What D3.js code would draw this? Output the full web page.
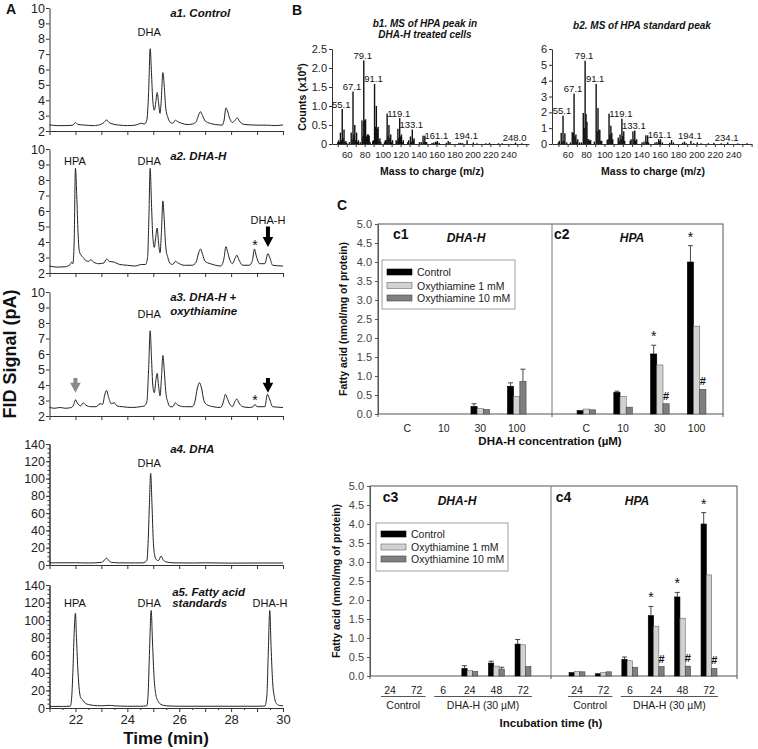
<!DOCTYPE html>
<html><head><meta charset="utf-8">
<script src="https://cdn.jsdelivr.net/npm/d3@7"></script>
<style>
body{margin:0;background:#fff}
svg{display:block}
</style></head><body>
<svg id="fig" width="758" height="749"></svg>
<script>
// ---------------- DATA ----------------
// Chromatograms: [time (min), FID signal (pA)]
const traceA1 = [[21.0,2.4],[21.3,2.35],[21.6,2.35],[21.9,2.38],[22.0,2.55],[22.1,2.42],[22.4,2.38],[22.7,2.35],[23.0,2.45],[23.1,2.55],[23.2,2.72],[23.3,2.55],[23.45,2.45],[23.7,2.38],[24.0,2.35],[24.3,2.38],[24.55,2.5],[24.65,2.45],[24.75,2.7],[24.82,4.5],[24.88,7.35],[24.93,5.8],[24.98,4.0],[25.04,3.35],[25.1,3.9],[25.15,4.5],[25.2,3.9],[25.26,3.15],[25.3,3.8],[25.37,5.8],[25.42,5.0],[25.48,3.5],[25.56,2.9],[25.66,2.55],[25.75,2.5],[25.85,2.7],[25.95,2.6],[26.1,2.5],[26.3,2.42],[26.5,2.45],[26.65,2.6],[26.75,3.05],[26.82,3.25],[26.9,3.0],[27.0,2.65],[27.1,2.55],[27.3,2.45],[27.5,2.4],[27.65,2.38],[27.73,2.7],[27.8,3.5],[27.85,3.35],[27.95,2.8],[28.05,2.55],[28.15,2.7],[28.24,2.85],[28.32,2.65],[28.45,2.45],[28.7,2.4],[29.0,2.38],[29.4,2.38],[29.7,2.35],[30.0,2.4]];
const traceA2 = [[21.0,2.45],[21.3,2.38],[21.6,2.4],[21.8,2.55],[21.85,2.7],[21.9,2.6],[21.95,4.0],[22.0,8.75],[22.05,7.0],[22.1,4.6],[22.15,3.4],[22.22,3.15],[22.3,3.0],[22.4,2.8],[22.5,2.75],[22.6,2.85],[22.7,2.7],[22.9,2.6],[23.1,2.65],[23.2,2.9],[23.3,2.75],[23.5,2.7],[23.7,2.55],[24.0,2.5],[24.3,2.45],[24.55,2.55],[24.7,2.55],[24.78,3.0],[24.83,5.5],[24.88,8.75],[24.93,6.5],[24.98,4.4],[25.04,3.65],[25.1,4.4],[25.15,4.9],[25.2,4.0],[25.26,3.3],[25.31,4.5],[25.37,6.65],[25.42,5.5],[25.48,3.7],[25.56,3.0],[25.66,2.6],[25.75,2.55],[25.85,2.75],[25.95,2.65],[26.2,2.5],[26.5,2.5],[26.65,2.7],[26.75,3.3],[26.82,3.55],[26.9,3.2],[27.0,2.75],[27.2,2.6],[27.4,2.5],[27.6,2.45],[27.72,2.9],[27.8,3.7],[27.86,3.4],[27.95,2.85],[28.05,2.6],[28.15,2.95],[28.22,3.15],[28.3,2.85],[28.45,2.5],[28.7,2.5],[28.82,2.8],[28.9,3.55],[28.97,3.1],[29.1,2.6],[29.3,2.6],[29.42,3.25],[29.5,2.95],[29.6,2.5],[30.0,2.45]];
const traceA3 = [[21.0,2.55],[21.2,2.5],[21.4,2.55],[21.6,2.5],[21.85,2.55],[21.95,2.8],[22.0,3.05],[22.07,2.85],[22.2,2.65],[22.3,2.85],[22.4,2.7],[22.6,2.6],[22.8,2.6],[22.95,2.8],[23.05,2.75],[23.12,3.3],[23.2,3.65],[23.28,3.2],[23.38,2.8],[23.5,2.85],[23.6,2.65],[23.8,2.6],[24.2,2.55],[24.5,2.6],[24.65,2.65],[24.75,2.9],[24.82,5.0],[24.88,7.5],[24.93,5.8],[24.98,4.0],[25.04,3.5],[25.1,4.3],[25.15,4.75],[25.2,4.0],[25.26,3.3],[25.31,4.3],[25.37,5.9],[25.42,5.0],[25.48,3.6],[25.56,2.9],[25.66,2.6],[25.75,2.6],[25.85,2.85],[25.95,2.7],[26.2,2.6],[26.5,2.6],[26.6,2.9],[26.7,3.8],[26.78,4.15],[26.86,3.8],[26.95,3.0],[27.05,2.75],[27.3,2.6],[27.6,2.55],[27.7,2.9],[27.78,3.4],[27.85,3.15],[27.95,2.75],[28.05,2.6],[28.15,2.95],[28.22,3.1],[28.3,2.85],[28.45,2.6],[28.7,2.55],[28.85,2.6],[28.92,2.75],[29.0,2.6],[29.3,2.6],[29.4,3.4],[29.48,3.1],[29.6,2.6],[30.0,2.55]];
const traceA4 = [[21.0,2.5],[22.0,2.6],[22.5,2.3],[23.0,3.0],[23.1,5.0],[23.2,8.0],[23.3,4.5],[23.4,3.0],[23.7,2.5],[24.3,2.4],[24.6,2.5],[24.75,5],[24.8,25],[24.85,70],[24.9,106],[24.95,70],[25.0,28],[25.05,12],[25.12,6],[25.2,5],[25.3,10.5],[25.38,6],[25.5,3.5],[25.8,2.5],[26.5,2.3],[27.0,2.5],[28.0,2.2],[29.0,2.3],[30.0,2.3]];
const traceA5 = [[21.0,1.8],[21.5,1.8],[21.8,2.0],[21.85,10],[21.9,40],[21.95,85],[22.0,108],[22.04,80],[22.1,40],[22.15,20],[22.2,12],[22.3,8.5],[22.4,5],[22.5,4],[22.7,3],[23.0,2.5],[23.3,3],[23.5,2.5],[24.0,2],[24.5,2],[24.75,2.5],[24.8,15],[24.85,60],[24.92,111],[24.97,75],[25.03,35],[25.1,15],[25.2,7],[25.3,4],[25.5,2.5],[26.0,2],[27.0,2],[28.0,2],[29.0,2],[29.3,2.2],[29.38,15],[29.43,60],[29.49,111],[29.54,70],[29.6,30],[29.67,12],[29.75,5],[29.85,3],[30.0,2.5]];
const chromTicksLow = [2,3,4,5,6,7,8,9,10];
const chromTicksHigh = [0,20,40,60,80,100,120,140];
const timeTicks = [22,24,26,28,30];

// Mass spectra: [m/z, counts x10^4]
const msB1 = [[50,0.05],[51,0.1],[52,0.05],[53,0.3],[54,0.1],[55,0.92],[56,0.15],[57,0.38],[58,0.05],[59,0.08],[60,0.03],[63,0.05],[65,0.3],[66,0.12],[67,1.38],[68,0.25],[69,0.5],[70,0.1],[71,0.3],[72,0.05],[73,0.1],[75,0.05],[77,0.62],[78,0.2],[79,2.2],[80,0.62],[81,0.65],[82,0.2],[83,0.25],[84,0.25],[85,0.22],[86,0.05],[89,0.08],[90,0.1],[91,1.58],[92,0.45],[93,1.0],[94,0.4],[95,0.45],[96,0.1],[97,0.15],[98,0.05],[102,0.05],[103,0.1],[104,0.1],[105,0.8],[106,0.2],[107,0.5],[108,0.15],[109,0.25],[110,0.05],[111,0.1],[115,0.1],[116,0.08],[117,0.4],[118,0.15],[119,0.68],[120,0.2],[121,0.25],[122,0.05],[123,0.1],[128,0.05],[129,0.1],[131,0.2],[132,0.05],[133,0.38],[134,0.1],[135,0.15],[141,0.05],[143,0.05],[145,0.22],[146,0.05],[147,0.22],[148,0.05],[149,0.05],[155,0.03],[157,0.04],[159,0.06],[160,0.04],[161,0.08],[163,0.03],[171,0.03],[173,0.08],[175,0.05],[185,0.03],[187,0.03],[189,0.02],[194,0.1],[201,0.04],[205,0.02],[215,0.02],[219,0.03],[229,0.02],[233,0.02],[248,0.04],[255,0.02]];
const msB2 = [[50,0.1],[51,0.2],[53,0.7],[54,0.15],[55,1.79],[56,0.2],[57,0.68],[59,0.1],[63,0.1],[65,0.75],[66,0.7],[67,3.18],[68,0.5],[69,0.6],[70,0.15],[71,0.3],[73,0.1],[75,0.1],[77,1.96],[78,1.0],[79,5.26],[80,1.9],[81,1.4],[82,0.3],[83,0.3],[84,0.2],[85,0.25],[89,0.15],[91,3.79],[92,0.8],[93,2.27],[94,0.9],[95,0.9],[96,0.2],[97,0.2],[103,0.25],[104,0.3],[105,1.92],[106,0.6],[107,1.16],[108,0.7],[109,0.3],[115,0.4],[116,0.2],[117,0.6],[118,0.3],[119,1.6],[120,0.5],[121,0.8],[122,0.2],[128,0.2],[129,0.3],[131,0.8],[132,0.3],[133,0.85],[134,0.2],[135,0.3],[141,0.1],[143,0.15],[145,0.55],[146,0.15],[147,0.55],[148,0.1],[155,0.1],[157,0.12],[159,0.3],[160,0.15],[161,0.3],[163,0.1],[171,0.08],[173,0.25],[175,0.1],[185,0.08],[187,0.15],[189,0.05],[194,0.2],[197,0.05],[201,0.1],[205,0.05],[213,0.05],[219,0.08],[227,0.05],[234,0.1],[245,0.04],[255,0.05]];
const b1PeakLabels = [["55.1",55],["67.1",67],["79.1",79],["91.1",91],["119.1",119],["133.1",133],["161.1",161],["194.1",194],["248.0",248]];
const b2PeakLabels = [["55.1",55],["67.1",67],["79.1",79],["91.1",91],["119.1",119],["133.1",133],["161.1",161],["194.1",194],["234.1",234]];
const b1YTicks = [0,0.5,1.0,1.5,2.0,2.5];
const b2YTicks = [0,1,2,3,4,5,6];
const mzLabelTicks = [60,80,100,120,140,160,180,200,220,240];

// Fatty acid bars (nmol/mg protein): per category [Control, Oxy 1 mM, Oxy 10 mM]
const seriesNames = ["Control","Oxythiamine 1 mM","Oxythiamine 10 mM"];
const concCategories = ["C","10","30","100"];
const c1Values = [[0,0,0],[0,0,0],[0.2,0.14,0.12],[0.73,0.46,0.86]];
const c1Errors = [[0,0,0],[0,0,0],[0.07,0,0],[0.09,0,0.32]];
const c2Values = [[0.09,0.13,0.11],[0.57,0.46,0.18],[1.58,1.29,0.27],[4.0,2.31,0.65]];
const c2Errors = [[0,0,0],[0.03,0,0],[0.23,0,0],[0.43,0,0]];
const c2Stars = ["","","*","*"];
const c2Hashes = ["","","#","#"];
const timeCategories = ["24","72","6","24","48","72"];
const timeGroups = [["Control",0,1],["DHA-H (30 \u00b5M)",2,5]];
const c3Values = [[0,0,0],[0,0,0],[0,0,0],[0.2,0.14,0.12],[0.34,0.26,0.18],[0.84,0.82,0.25]];
const c3Errors = [[0,0,0],[0,0,0],[0,0,0],[0.07,0,0],[0.05,0,0.05],[0.12,0,0]];
const c4Values = [[0.09,0.12,0.11],[0.06,0.09,0.11],[0.44,0.4,0.23],[1.59,1.31,0.25],[2.08,1.52,0.26],[4.0,2.66,0.2]];
const c4Errors = [[0,0,0],[0,0,0],[0.06,0,0],[0.24,0,0],[0.12,0,0],[0.3,0,0]];
const c4Stars = ["","","","*","*","*"];
const c4Hashes = ["","","","#","#","#"];
const fattyTicks = [0,0.5,1.0,1.5,2.0,2.5,3.0,3.5,4.0,4.5,5.0];

// ---------------- DRAWING ----------------
const FONT = 'Arial, "Liberation Sans", sans-serif';
const svg = d3.select("#fig").attr("font-family", FONT);
svg.append("rect").attr("width",758).attr("height",749).attr("fill","#fff");

function txt(g, x, y, s, o = {}) {
  return g.append("text").attr("x",x).attr("y",y).text(s)
    .attr("font-size", o.size || 11)
    .attr("font-weight", o.bold ? "bold" : "normal")
    .attr("font-style", o.italic ? "italic" : "normal")
    .attr("text-anchor", o.anchor || "start")
    .attr("fill", o.fill || "#222");
}
function styleAxis(sel, size, color, lineColor) {
  sel.selectAll("path.domain").attr("stroke", lineColor || "#333");
  sel.selectAll(".tick line").attr("stroke", lineColor || "#333");
  sel.selectAll("text").attr("font-size", size).attr("fill", color).attr("font-family", FONT);
}

// ---- Panel A ----
txt(svg, 6, 14, "A", {size:14, bold:true, fill:"#111"});
const tx = d3.scaleLinear().domain([21,30]).range([49.5,283]);

function arrow(g, x, yTop, yTip, color) {
  const sw = 2, hw = 5.3, hl = 10;
  const yh = yTip - hl;
  g.append("path")
    .attr("d", `M${x-sw},${yTop}L${x+sw},${yTop}L${x+sw},${yh}L${x+hw},${yh}L${x},${yTip}L${x-hw},${yh}L${x-sw},${yh}Z`)
    .attr("fill", color);
}

const chromPanels = [
  {data:traceA1, dom:[2,10], top:8, bottom:131, ticks:chromTicksLow,
   notes:[{s:"DHA",t:24.84,v:8.18},{s:"a1. Control",t:25.65,v:9.4,bi:true,anchor:"start"}]},
  {data:traceA2, dom:[2,10], top:149, bottom:273, ticks:chromTicksLow,
   notes:[{s:"HPA",t:21.98,v:8.97},{s:"DHA",t:24.84,v:8.97},{s:"a2. DHA-H",t:25.65,v:9.29,bi:true,anchor:"start"},
          {s:"DHA-H",t:29.42,v:5.16},{s:"*",t:28.92,v:3.5,size:14}],
   arrows:[{t:29.42,v1:5.0,v2:3.68,c:"#000"}]},
  {data:traceA3, dom:[2,10], top:292, bottom:416, ticks:chromTicksLow,
   notes:[{s:"DHA",t:24.84,v:8.32},{s:"a3. DHA-H +",t:25.65,v:9.42,bi:true,anchor:"start"},{s:"oxythiamine",t:25.65,v:8.52,bi:true,anchor:"start"},
          {s:"*",t:28.92,v:2.72,size:14}],
   arrows:[{t:22.0,v1:4.45,v2:3.5,c:"#8a8a8a"},{t:29.42,v1:4.45,v2:3.5,c:"#000"}]},
  {data:traceA4, dom:[0,140], top:444, bottom:565, ticks:chromTicksHigh, minor:true,
   notes:[{s:"a4. DHA",t:25.65,v:129.6,bi:true,anchor:"start"},{s:"DHA",t:24.84,v:113.4}]},
  {data:traceA5, dom:[0,140], top:585, bottom:708, ticks:chromTicksHigh, minor:true, xlabels:true,
   notes:[{s:"a5. Fatty acid",t:25.73,v:127.5,bi:true,anchor:"start"},{s:"standards",t:25.73,v:114.5,bi:true,anchor:"start"},
          {s:"HPA",t:21.98,v:114.5},{s:"DHA",t:24.84,v:114.5},{s:"DHA-H",t:29.5,v:114.5}]}
];

chromPanels.forEach(p => {
  const ys = d3.scaleLinear().domain(p.dom).range([p.bottom, p.top]);
  const g = svg.append("g");
  const xa = d3.axisBottom(tx).tickValues(d3.range(21,30.01,1)).tickSize(4).tickSizeOuter(0)
    .tickFormat(d => (p.xlabels && timeTicks.includes(d)) ? d : "");
  g.append("g").attr("transform",`translate(0,${p.bottom})`).call(xa).call(s=>styleAxis(s,13,"#222"));
  if (p.xlabels) {
    g.append("g").attr("transform",`translate(0,${p.bottom})`)
      .call(d3.axisBottom(tx).tickValues(d3.range(21.5,30,1)).tickSize(2).tickSizeOuter(0).tickFormat(""))
      .call(s=>styleAxis(s,13,"#222"));
  }
  if (p.minor) {
    g.append("g").attr("transform",`translate(49.5,0)`)
      .call(d3.axisLeft(ys).tickValues(d3.range(0,141,5)).tickSize(2).tickSizeOuter(0).tickFormat(""))
      .call(s=>styleAxis(s,12,"#222"));
  }
  g.append("g").attr("transform",`translate(49.5,0)`)
    .call(d3.axisLeft(ys).tickValues(p.ticks).tickSize(3.5).tickPadding(1).tickSizeOuter(0).tickFormat(d3.format("d")))
    .call(s=>styleAxis(s,12.5,"#222"));
  g.append("path").datum(p.data)
    .attr("d", d3.line().x(d=>tx(d[0])).y(d=>ys(d[1])).curve(d3.curveMonotoneX))
    .attr("fill","none").attr("stroke","#222").attr("stroke-width",1);
  (p.notes||[]).forEach(n => {
    txt(g, tx(n.t), ys(n.v), n.s, {size: n.size || (n.bi ? 11.5 : 11), bold: !!n.bi, italic: !!n.bi,
        anchor: n.anchor || "middle", fill:"#111"});
  });
  (p.arrows||[]).forEach(a => arrow(g, tx(a.t), ys(a.v1), ys(a.v2), a.c));
});
svg.append("text").attr("transform","translate(16,354) rotate(-90)").attr("text-anchor","middle")
  .attr("font-size",18).attr("font-weight","bold").attr("fill","#111").text("FID Signal (pA)");
txt(svg, 166, 744, "Time (min)", {size:17, bold:true, anchor:"middle", fill:"#111"});

// ---- Panel B ----
txt(svg, 292, 15, "B", {size:14, bold:true, fill:"#111"});
function msPanel(p) {
  const g = svg.append("g");
  const xs = d3.scaleLinear().domain(p.xdom).range(p.xr);
  const ys = d3.scaleLinear().domain(p.ydom).range([144,49]);
  g.selectAll("rect.bar").data(p.data).join("rect")
    .attr("x", d => xs(d[0]) - 0.7).attr("width", 1.4)
    .attr("y", d => ys(d[1])).attr("height", d => ys(0) - ys(d[1]))
    .attr("fill", "#111");
  g.append("g").attr("transform",`translate(0,144)`)
    .call(d3.axisBottom(xs).tickValues(d3.range(50,261,10)).tickSize(3).tickPadding(4).tickSizeOuter(0)
      .tickFormat(d => mzLabelTicks.includes(d) ? d : ""))
    .call(s=>styleAxis(s,9.6,"#222"));
  g.append("g").attr("transform",`translate(${p.xr[0]},0)`)
    .call(d3.axisLeft(ys).tickValues(p.yticks).tickSize(3).tickPadding(2).tickSizeOuter(0).tickFormat(p.yfmt))
    .call(s=>styleAxis(s,11,"#222"));
  p.labels.forEach(l => {
    const pk = p.data.find(d => d[0] === l[1]);
    txt(g, xs(l[1]) - 1, ys(pk[1]) - 1.5, l[0], {size:9.5, anchor:"middle", fill:"#111"});
  });
  p.title.forEach((t,i) => txt(g, p.titleX, p.titleY + i*11, t, {size:10, bold:true, italic:true, anchor:"middle", fill:"#111"}));
  txt(g, p.xlabX, 175, "Mass to charge (m/z)", {size:10.5, bold:true, anchor:"middle", fill:"#111"});
}
msPanel({data:msB1, xdom:[43.6,263], xr:[332,529], ydom:[0,2.5], yticks:b1YTicks,
  yfmt: d => d === 0 ? "0" : d.toFixed(1), labels:b1PeakLabels,
  title:["b1. MS of HPA peak in","DHA-H treated cells"], titleX:425, titleY:27, xlabX:432});
msPanel({data:msB2, xdom:[43,260], xr:[552,751.6], ydom:[0,6], yticks:b2YTicks,
  yfmt: d3.format("d"), labels:b2PeakLabels,
  title:["b2. MS of HPA standard peak"], titleX:642, titleY:29, xlabX:653});
{
  const t = svg.append("text").attr("transform","translate(306,97) rotate(-90)").attr("text-anchor","middle")
    .attr("font-size",10.5).attr("font-weight","bold").attr("fill","#111");
  t.append("tspan").text("Counts (x10");
  t.append("tspan").attr("font-size",7).attr("dy",-4).text("4");
  t.append("tspan").attr("dy",4).text(")");
}

// ---- Panel C ----
txt(svg, 337, 210, "C", {size:14, bold:true, fill:"#111"});
const barFill = ["#000","#d2d2d2","#7f7f7f"];
const barStroke = ["#000","#666","#444"];

function barPanel(p) {
  const g = svg.append("g");
  const xb = d3.scaleBand().domain(d3.range(p.cats.length)).range(p.xr);
  const ys = p.ys;
  const bw = p.bw;
  p.values.forEach((row, i) => {
    const cx = xb(i) + xb.bandwidth()/2;
    row.forEach((v, j) => {
      if (v <= 0) return;
      const x0 = cx - 1.5*bw + j*bw;
      g.append("rect").attr("x", x0).attr("y", ys(v)).attr("width", bw).attr("height", ys(0) - ys(v))
        .attr("fill", barFill[j]).attr("stroke", barStroke[j]).attr("stroke-width", 0.6);
      const e = p.errors[i][j];
      if (e > 0) {
        const xm = x0 + bw/2;
        g.append("line").attr("x1",xm).attr("x2",xm).attr("y1",ys(v)).attr("y2",ys(v+e)).attr("stroke","#333").attr("stroke-width",0.9);
        g.append("line").attr("x1",xm-2.5).attr("x2",xm+2.5).attr("y1",ys(v+e)).attr("y2",ys(v+e)).attr("stroke","#333").attr("stroke-width",0.9);
      }
    });
    if (p.stars && p.stars[i]) {
      const top = row[0] + p.errors[i][0];
      txt(g, cx - bw, ys(top) - 4, p.stars[i], {size:14, anchor:"middle", fill:"#111"});
    }
    if (p.hashes && p.hashes[i]) {
      txt(g, cx + bw, ys(row[2]) - 4, p.hashes[i], {size:11, bold:true, anchor:"middle", fill:"#111"});
    }
    txt(g, cx, p.catY, p.cats[i], {size:10.5, anchor:"middle", fill:"#222"});
  });
  txt(g, p.xr[0] - (p.tagDx||0), p.tagY, p.tag, {size:14, bold:true, fill:"#111"});
  txt(g, p.nameX, p.tagY + 3, p.name, {size:12, bold:true, italic:true, anchor:"middle", fill:"#111"});
  if (p.groups) {
    p.groups.forEach(gr => {
      const xa = xb(gr[1]) + xb.bandwidth()/2 - 9, xe = xb(gr[2]) + xb.bandwidth()/2 + 9;
      g.append("line").attr("x1",xa).attr("x2",xe).attr("y1",p.catY+2.5).attr("y2",p.catY+2.5).attr("stroke","#555").attr("stroke-width",1);
      txt(g, (xa+xe)/2, p.catY + 15, gr[0], {size:10.5, anchor:"middle", fill:"#222"});
    });
  }
}

function frame(x0, xm, x1, yTop, yBot, ys, tickLabelColor) {
  const g = svg.append("g");
  g.append("rect").attr("x",x0).attr("y",yTop).attr("width",x1-x0).attr("height",yBot-yTop)
    .attr("fill","none").attr("stroke","#555").attr("stroke-width",1);
  g.append("line").attr("x1",xm).attr("x2",xm).attr("y1",yTop).attr("y2",yBot).attr("stroke","#777").attr("stroke-width",1);
  g.append("g").attr("transform",`translate(${x0},0)`)
    .call(d3.axisLeft(ys).tickValues(fattyTicks).tickSize(3).tickPadding(3).tickSizeOuter(0).tickFormat(d3.format(".1f")))
    .call(s=>styleAxis(s,11,tickLabelColor,"#555"));
  [x0, xm, x1].forEach(x => g.append("line").attr("x1",x).attr("x2",x).attr("y1",yBot).attr("y2",yBot+3).attr("stroke","#555"));
}

function legend(x, y, w, h, rowY) {
  const g = svg.append("g");
  g.append("rect").attr("x",x).attr("y",y).attr("width",w).attr("height",h).attr("fill","#fff").attr("stroke","#888").attr("stroke-width",0.8);
  seriesNames.forEach((s, j) => {
    const ry = y + rowY[j];
    g.append("rect").attr("x", x+5).attr("y", ry-3).attr("width",25).attr("height",6)
      .attr("fill",barFill[j]).attr("stroke",barStroke[j]).attr("stroke-width",0.6);
    txt(g, x+35, ry+4, s, {size:10.5, fill:"#222"});
  });
}

// c1 / c2
const ysTop = d3.scaleLinear().domain([0,5]).range([414,224]);
frame(378, 552, 723, 224, 414, ysTop, "#444");
barPanel({cats:concCategories, values:c1Values, errors:c1Errors, xr:[389,535], ys:ysTop, bw:6.2, catY:432,
  tag:"c1", tagY:239, tagDx:-4, name:"DHA-H", nameX:466});
barPanel({cats:concCategories, values:c2Values, errors:c2Errors, stars:c2Stars, hashes:c2Hashes, xr:[568,715], ys:ysTop, bw:6.2, catY:432,
  tag:"c2", tagY:239, tagDx:14, name:"HPA", nameX:632});
legend(382, 260, 133, 49, [12, 25.5, 38]);
svg.append("text").attr("transform","translate(347,319) rotate(-90)").attr("text-anchor","middle")
  .attr("font-size",10.5).attr("font-weight","bold").attr("fill","#111").text("Fatty acid (nmol/mg of protein)");
txt(svg, 550, 445, "DHA-H concentration (\u00b5M)", {size:11.5, bold:true, anchor:"middle", fill:"#111"});

// c3 / c4
const ysBot = d3.scaleLinear().domain([0,5]).range([676,486]);
frame(370, 551, 737, 486, 676, ysBot, "#444");
barPanel({cats:timeCategories, values:c3Values, errors:c3Errors, xr:[376.7,536.3], ys:ysBot, bw:5.3, catY:694,
  groups:timeGroups, tag:"c3", tagY:502, tagDx:-6, name:"DHA-H", nameX:457});
barPanel({cats:timeCategories, values:c4Values, errors:c4Errors, stars:c4Stars, hashes:c4Hashes, xr:[563.8,722.2], ys:ysBot, bw:5.3, catY:694,
  groups:timeGroups, tag:"c4", tagY:502, tagDx:8, name:"HPA", nameX:637});
legend(376, 523, 132, 48, [11, 24, 36]);
svg.append("text").attr("transform","translate(340,581) rotate(-90)").attr("text-anchor","middle")
  .attr("font-size",10.5).attr("font-weight","bold").attr("fill","#111").text("Fatty acid (nmol/mg of protein)");
txt(svg, 551, 727, "Incubation time (h)", {size:11.5, bold:true, anchor:"middle", fill:"#111"});
</script>
</body></html>
